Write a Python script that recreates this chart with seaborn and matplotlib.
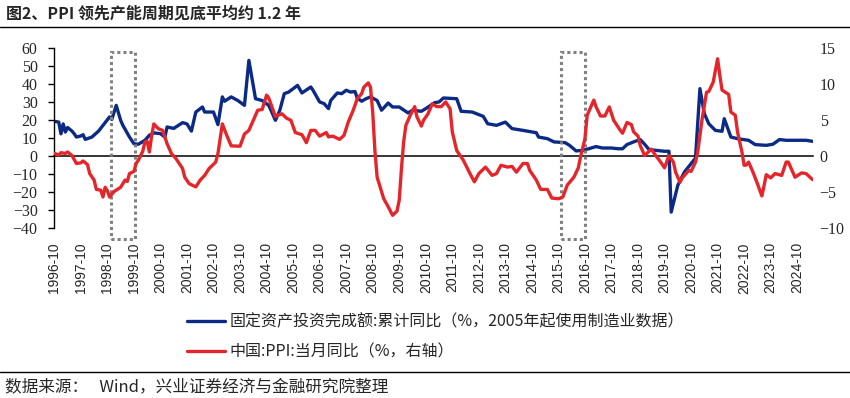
import matplotlib
matplotlib.use("Agg")
import matplotlib.pyplot as plt
from matplotlib.lines import Line2D
from matplotlib.patches import Rectangle
import seaborn as sns
import pandas as pd

# ---------------- data (month index = months since 1996-10) ----------------
fai_month = [0, 2, 3, 4, 5, 6, 7, 8, 9, 10, 12, 13, 14, 17, 20, 23, 25, 26, 28, 30,
             31, 34, 36, 38, 41, 43, 45, 48, 50, 51, 54, 58, 60, 62, 64, 67, 68, 72, 74, 76,
             77, 80, 83, 86, 88, 91, 94, 97, 100, 102, 104, 106, 110, 112, 116, 117, 120, 122, 124, 125,
             128, 130, 132, 134, 136, 137, 139, 141, 143, 146, 148, 151, 153, 156, 160, 162, 166, 168, 172, 174,
             176, 182, 184, 189, 194, 196, 200, 204, 207, 212, 218, 219, 223, 226, 231, 233, 236, 239, 242, 245,
             248, 252, 255, 257, 259, 262, 265, 267, 269, 272, 276, 278, 279, 282, 285, 288, 290, 292, 294, 296,
             299, 302, 303, 306, 309, 314, 317, 322, 325, 328, 331, 336, 340, 343]
fai_value = [19.5, 19.0, 12.5, 18.0, 13.5, 16.0, 15.0, 14.0, 12.5, 10.7, 11.3, 12.0, 9.4, 10.7, 14.0, 18.7, 21.9, 20.5, 28.3, 20.0,
             17.2, 10.7, 7.0, 6.7, 8.9, 11.7, 13.0, 12.6, 10.7, 16.3, 15.5, 18.7, 18.0, 14.0, 24.6, 27.4, 24.6, 24.6, 17.6, 33.0,
             30.6, 33.0, 31.0, 28.3, 53.3, 32.0, 31.0, 28.3, 20.0, 25.6, 34.8, 35.7, 39.4, 35.2, 38.5, 36.7, 30.2, 29.3, 26.5, 31.0,
             35.2, 34.8, 36.7, 35.7, 36.0, 32.4, 30.6, 32.0, 33.0, 31.0, 25.6, 29.6, 27.4, 27.4, 24.1, 25.6, 25.0, 26.5, 29.8, 30.2,
             32.4, 32.0, 25.0, 24.6, 22.2, 18.1, 17.2, 19.0, 15.4, 14.4, 13.1, 10.7, 9.8, 8.0, 7.6, 6.1, 3.0, 3.3, 4.3, 5.4,
             4.6, 4.6, 4.2, 4.2, 6.5, 8.0, 9.3, 6.7, 3.7, 3.3, 2.8, 2.8, -31.0, -16.1, -8.7, -4.1, -1.0, 37.6, 23.7, 18.1,
             14.4, 13.9, 20.9, 10.7, 9.8, 8.9, 6.5, 6.1, 6.7, 9.3, 8.9, 8.9, 8.9, 8.3]

ppi_month = [0, 2, 3, 5, 6, 8, 10, 12, 13, 15, 16, 18, 19, 21, 22, 23, 24, 25, 27, 30,
             32, 33, 34, 36, 37, 38, 40, 41, 42, 43, 44, 45, 47, 49, 51, 53, 55, 58, 59, 61,
             64, 66, 68, 70, 73, 74, 76, 78, 80, 84, 86, 88, 90, 92, 94, 96, 97, 100, 101, 103,
             105, 107, 109, 112, 114, 116, 118, 120, 123, 124, 126, 129, 131, 133, 135, 136, 137, 139, 140, 142,
             143, 144, 145, 146, 149, 151, 153, 155, 156, 157, 158, 159, 161, 163, 164, 166, 167, 169, 171, 173,
             175, 177, 179, 180, 182, 185, 188, 190, 192, 195, 198, 200, 202, 205, 207, 209, 212, 214, 215, 218,
             220, 223, 225, 228, 230, 232, 235, 237, 238, 240, 241, 244, 245, 247, 249, 251, 253, 256, 257, 259,
             261, 262, 264, 265, 267, 268, 270, 272, 274, 276, 278, 280, 281, 283, 284, 287, 288, 290, 291, 293,
             295, 296, 298, 300, 301, 302, 305, 306, 308, 309, 311, 312, 313, 314, 316, 318, 320, 321, 322, 324,
             326, 329, 331, 332, 335, 338, 340, 343]
ppi_value = [0.4, 0.2, 0.5, 0.4, 0.6, 0.1, -1.0, -0.9, -0.65, -1.15, -2.4, -3.3, -4.6, -4.7, -5.65, -4.3, -4.8, -5.65, -4.9, -4.3,
             -3.3, -3.5, -2.4, -2.1, -1.0, -0.55, 0.7, 2.0, 2.1, 0.6, 2.8, 4.5, 3.85, 3.6, 1.75, 0.37, -0.3, -1.7, -2.9, -3.8,
             -4.25, -3.3, -2.65, -1.7, -0.8, 0.37, 4.5, 2.9, 1.45, 1.4, 3.1, 3.6, 5.0, 6.4, 6.5, 8.5, 8.1, 5.5, 5.7, 5.9,
             5.3, 5.0, 3.3, 3.0, 1.9, 3.6, 3.6, 2.8, 3.3, 2.7, 2.8, 2.35, 2.9, 4.8, 6.25, 7.1, 8.0, 8.7, 9.6, 10.2,
             9.6, 6.15, 0.8, -2.9, -5.9, -7.0, -8.2, -7.6, -6.1, -1.7, 2.0, 4.3, 5.7, 6.9, 5.5, 4.2, 5.0, 5.9, 7.3, 6.9,
             6.9, 7.55, 6.6, 3.4, 0.8, -0.55, -2.4, -3.55, -2.4, -1.5, -2.65, -2.4, -1.25, -1.5, -1.4, -2.2, -1.0, -1.0, -1.95, -3.3,
             -4.6, -4.6, -5.8, -5.9, -5.65, -4.0, -2.9, -1.6, -0.1, 2.45, 5.7, 7.8, 6.9, 5.6, 5.6, 6.85, 5.0, 3.6, 3.2, 4.7,
             4.4, 3.4, 2.8, 1.5, 0.1, 0.4, 1.0, 0.1, -0.7, -1.6, 0.1, -0.8, -2.2, -3.6, -3.0, -1.95, -2.1, -0.8, 0.6, 5.2,
             8.9, 9.0, 10.3, 13.55, 11.25, 9.2, 8.6, 6.15, 5.7, 3.4, 0.6, -1.25, -1.2, -0.8, -2.2, -3.8, -5.5, -4.1, -2.55, -3.0,
             -2.4, -2.65, -0.8, -0.8, -2.9, -2.3, -2.4, -3.25]

start_month = "1996-10"
n_months = 344
tick_step = 12
box_ranges = [(25.6, 36.5), (229.0, 239.8)]   # highlighted periods (month index)
box_y = (-46, 58)

fai_label = "固定资产投资完成额:累计同比（%，2005年起使用制造业数据）"
ppi_label = "中国:PPI:当月同比（%，右轴）"
title = "图2、PPI 领先产能周期见底平均约 1.2 年"
source = "数据来源：   Wind，兴业证券经济与金融研究院整理"

# ---------------- style ----------------
sns.set_style("white")
plt.rcParams['font.family'] = ['Noto Sans CJK SC', 'DejaVu Sans']
BLUE = "#0b2a86"
RED = "#e4262b"

fai_df = pd.DataFrame({"m": fai_month, "v": fai_value})
ppi_df = pd.DataFrame({"m": ppi_month, "v": ppi_value})

fig = plt.figure(figsize=(8.5, 3.98), dpi=100)
ax = fig.add_axes([0.0639, 0.4264, 0.8922, 0.4522])
ax2 = ax.twinx()

sns.lineplot(data=fai_df, x="m", y="v", ax=ax, color=BLUE, lw=2.4)
sns.lineplot(data=ppi_df, x="m", y="v", ax=ax2, color=RED, lw=2.4)

ax.set_xlim(0, n_months - 1)
ax.set_ylim(-40, 60)
ax2.set_ylim(-10, 15)
ax.set_xlabel("")
ax.set_ylabel("")
ax2.set_ylabel("")

# left axis
ax.set_yticks(range(-40, 61, 10))
ax.tick_params(axis='y', direction='out', length=4, width=1, color='black', pad=8)
for t in ax.get_yticklabels():
    t.set_fontfamily('Liberation Serif')
    t.set_fontsize(11.5)
ax.spines['left'].set_color('black')
ax.spines['left'].set_linewidth(1)
ax.spines['top'].set_visible(False)
ax.spines['right'].set_visible(False)
ax.spines['bottom'].set_position(('data', 0))
ax.spines['bottom'].set_color('black')
ax.spines['bottom'].set_linewidth(1.1)

# x ticks on zero line, labels at bottom
period0 = pd.Period(start_month, freq='M')
ticks = list(range(0, n_months, tick_step))
labels = [str(period0 + t) for t in ticks]
ax.set_xticks(ticks)
ax.tick_params(axis='x', direction='out', length=5, width=1, color='black', labelbottom=False)
sec = ax.secondary_xaxis(0)
sec.set_xticks(ticks, labels=labels)
sec.tick_params(length=0, pad=10)
sec.spines['bottom'].set_visible(False)
for t in sec.get_xticklabels():
    t.set_rotation(90)
    t.set_fontfamily('Liberation Sans')
    t.set_fontsize(10)

# right axis
ax2.set_yticks(range(-10, 16, 5))
ax2.tick_params(axis='y', length=0, pad=5)
for t in ax2.get_yticklabels():
    t.set_fontfamily('Liberation Serif')
    t.set_fontsize(11.5)
for s in ax2.spines.values():
    s.set_visible(False)
ax.grid(False)
ax2.grid(False)

# dotted boxes
for x0, x1 in box_ranges:
    r = Rectangle((x0, box_y[0]), x1 - x0, box_y[1] - box_y[0], fill=False,
                  edgecolor='#808080', lw=2.2, ls=(0, (1, 1)), clip_on=False, zorder=5)
    ax.add_patch(r)

# legend
handles = [Line2D([], [], color=BLUE, lw=2.4), Line2D([], [], color=RED, lw=2.4)]
fig.legend(handles, [fai_label, ppi_label], loc='upper left',
           bbox_to_anchor=(0.212, 0.228), frameon=False, fontsize=11.5,
           handlelength=2.4, handletextpad=0.3, labelspacing=0.78, borderaxespad=0)

# title, source, rules
fig.text(0.007, 0.965, title, fontsize=11.5, fontweight='bold', va='center', ha='left')
fig.add_artist(Line2D([0, 1], [0.932, 0.932], transform=fig.transFigure, color='black', lw=1))
fig.add_artist(Line2D([0, 1], [0.066, 0.066], transform=fig.transFigure, color='black', lw=1))
fig.text(0.006, 0.028, source, fontsize=12, va='center', ha='left')

fig.savefig("out.png", dpi=100)
